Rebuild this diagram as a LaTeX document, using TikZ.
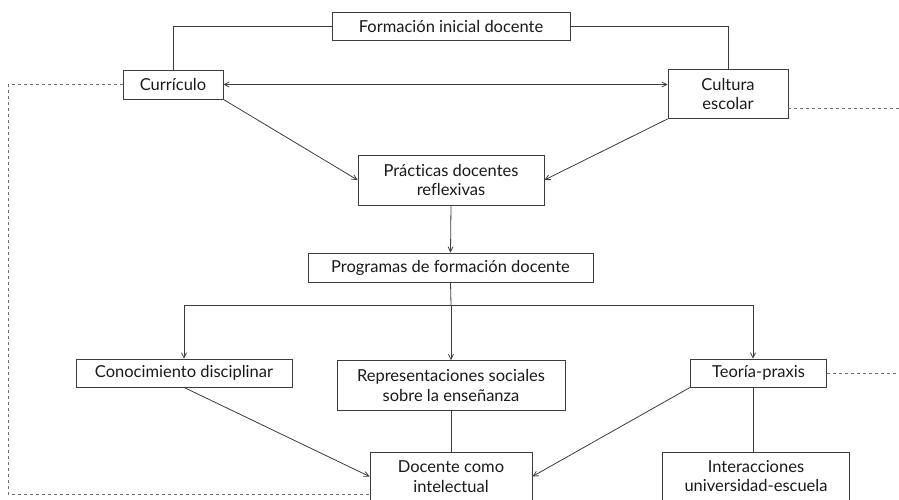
\documentclass[tikz,border=0pt]{standalone}
\usepackage{fontspec}
\setmainfont{Lato}[Ligatures=NoCommon]
\usetikzlibrary{arrows.meta,calc}
\definecolor{edge}{HTML}{3C3C3C}
\definecolor{dash}{HTML}{707070}
\definecolor{ink}{HTML}{1A1A1A}
\tikzset{
  box/.style={draw=edge, line width=0.8pt, fill=white, text=ink, align=center,
              inner sep=0pt, font=\fontsize{16.5}{19.5}\selectfont},
  link/.style={draw=edge, line width=0.8pt},
  tip/.style={link, -{Straight Barb[length=5pt,width=5pt]}},
  dualtip/.style={link, {Straight Barb[length=5pt,width=5pt]}-{Straight Barb[length=5pt,width=5pt]}},
  dashlink/.style={draw=dash, line width=0.8pt, dash pattern=on 3pt off 3pt}
}
\begin{document}
\begin{tikzpicture}[x=1pt,y=-1pt]
\useasboundingbox (0,0) rectangle (899,499);
\clip (0,0) rectangle (899,499);

% boxes
\node[box, minimum width=238pt, minimum height=28pt] (fid) at (451,26) {Formación inicial docente};
\node[box, minimum width=100pt, minimum height=29pt] (cur) at (173,84.5) {Currículo};
\node[box, minimum width=120pt, minimum height=49pt] (cul) at (728,94) {Cultura\\escolar};
\node[box, minimum width=186pt, minimum height=50pt] (pra) at (451,180) {Prácticas docentes\\reflexivas};
\node[box, minimum width=285pt, minimum height=29pt] (pro) at (450.5,267.5) {Programas de formación docente};
\node[box, minimum width=216pt, minimum height=28pt] (con) at (184,373) {Conocimiento disciplinar};
\node[box, minimum width=228pt, minimum height=50pt] (rep) at (451,385.5) {Representaciones sociales\\sobre la enseñanza};
\node[box, minimum width=136pt, minimum height=28pt] (teo) at (758.5,373) {Teoría-praxis};
\node[box, minimum width=162pt, minimum height=48pt] (doc) at (451,476.5) {Docente como\\intelectual};
\node[box, minimum width=187pt, minimum height=48pt] (int) at (756,476) {Interacciones\\universidad-escuela};

% helper points
\coordinate (br) at (451,305);
\coordinate (tx) at (753,305);
\coordinate (dl) at (8,494);
\coordinate (culr) at (899,108);
\coordinate (teor) at (899,373);

% top links
\draw[link] (fid.west) -| (cur.north);
\draw[link] (fid.east) -| (cul.north);
\draw[dualtip] (cur.east) -- (cur.east -| cul.west);
\draw[tip] (cur.south east) -- (pra.west);
\draw[tip] (cul.south west) -- (pra.east);
\draw[tip] (pra.south) -- (pro.north);

% branching
\draw[link] (pro.south) -- (br);
\draw[link] (br -| con.north) -- (tx);
\draw[tip] (br -| con.north) -- (con.north);
\draw[tip] (br) -- (rep.north);
\draw[tip] (tx) -- (tx |- teo.north);

% lower links
\draw[tip] (con.south) -- (doc.west);
\draw[tip] (teo.south west) -- (doc.east);
\draw[link] (rep.south) -- (doc.north);
\draw[link] (tx |- teo.south) -- (tx |- int.north);

% dashed feedback lines
\draw[dashlink] (cur.west) -| (dl) -- (dl -| doc.west);
\draw[dashlink] (culr -| cul.east) -- (culr);
\draw[dashlink] (teo.east) -- (teor);
\end{tikzpicture}
\end{document}
